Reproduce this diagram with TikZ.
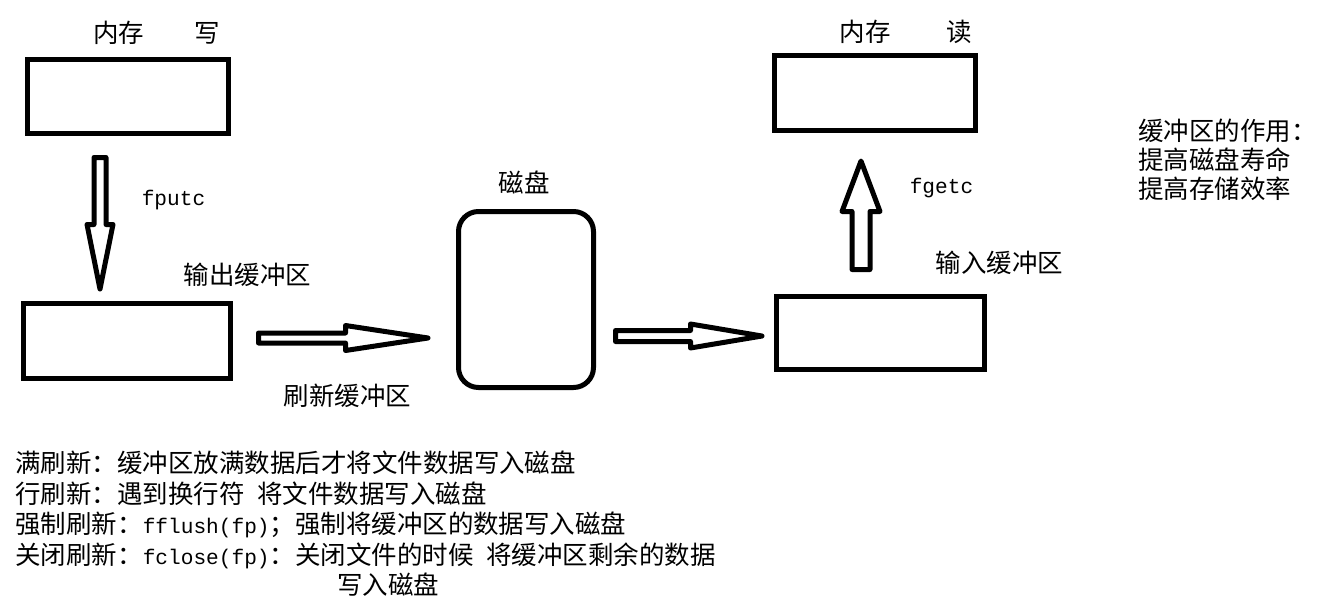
\documentclass[tikz,border=0pt]{standalone}
\usepackage{fontspec}
\setmainfont{Noto Sans CJK SC}
\setmonofont{Liberation Mono}[Scale=0.83]
\usepackage{tikz}
\usetikzlibrary{positioning,calc}

% hollow block arrow: tail, tip, half shaft, half head, head length
\newcommand{\blockarrow}[5]{%
    \coordinate (hb) at ($(#2)!#5!(#1)$);
    \draw[arrowStyle] ($(#1)!#3!90:(#2)$) -- ($(hb)!#3!90:(#2)$) -- ($(hb)!#4!90:(#2)$)
        -- (#2) -- ($(hb)!#4!-90:(#2)$) -- ($(hb)!#3!-90:(#2)$) -- ($(#1)!#3!-90:(#2)$) -- cycle;
}

\begin{document}
\begin{tikzpicture}[
    boxStyle/.style={rectangle, draw=black, line width=0.1cm, minimum width=4.02cm, minimum height=1.48cm, inner sep=0pt},
    diskStyle/.style={rectangle, rounded corners=0.4cm, draw=black, line width=0.1cm, minimum width=2.70cm, minimum height=3.52cm, inner sep=0pt},
    arrowStyle/.style={draw=black, line width=0.1cm, line join=round},
    lbl/.style={inner sep=0pt, font=\fontsize{14.5}{17.4}\selectfont}
]
    \useasboundingbox (0,0) rectangle (26.62,12.14);

    % Memory and buffers
    \node[boxStyle] (mw) at (2.56, 10.21) {};
    \node[boxStyle, minimum width=4.14cm, minimum height=1.50cm] (obuf) at (2.54, 5.32) {};
    \node[diskStyle] (disk) at (10.52, 6.15) {};
    \node[boxStyle, minimum width=4.16cm, minimum height=1.46cm] (ibuf) at (17.61, 5.48) {};
    \node[boxStyle, minimum height=1.50cm] (mr) at (17.50, 10.28) {};

    % Labels
    \node[lbl] (mwName) at (2.37, 11.48) {内存};
    \node[lbl] (mwOp) at (4.15, 11.48) {写};
    \node[lbl] (mrName) at (17.30, 11.50) {内存};
    \node[lbl] (mrOp) at (19.19, 11.50) {读};
    \node[lbl] (putLbl) at (3.47, 8.14) {\ttfamily fputc};
    \node[lbl] (obufLbl) at (4.95, 6.64) {输出缓冲区};
    \node[lbl] (flushLbl) at (6.95, 4.22) {刷新缓冲区};
    \node[lbl] (diskLbl) at (10.48, 8.50) {磁盘};
    \node[lbl] (getLbl) at (18.83, 8.38) {\ttfamily fgetc};
    \node[lbl] (ibufLbl) at (19.99, 6.88) {输入缓冲区};

    % Block arrows
    \coordinate (putA) at (2.00, 8.99);
    \coordinate (putB) at (2.00, 6.36);
    \blockarrow{putA}{putB}{0.12cm}{0.26cm}{1.29cm}

    \coordinate (flushA) at (5.17, 5.38);
    \coordinate (flushB) at (8.56, 5.38);
    \blockarrow{flushA}{flushB}{0.10cm}{0.25cm}{1.65cm}

    \coordinate (readA) at (12.31, 5.42);
    \coordinate (readB) at (15.24, 5.42);
    \blockarrow{readA}{readB}{0.11cm}{0.24cm}{1.43cm}

    \coordinate (getA) at (17.22, 6.75);
    \coordinate (getB) at (17.22, 8.92);
    \blockarrow{getA}{getB}{0.18cm}{0.38cm}{1.01cm}

    % Notes
    \node[lbl, font=\fontsize{14.5}{16.5}\selectfont, align=left, anchor=north west] (role) at (22.76, 9.76) {
        缓冲区的作用：\\
        提高磁盘寿命\\
        提高存储效率
    };
    \node[lbl, font=\fontsize{14.5}{17.4}\selectfont, align=left, anchor=north west] (notes) at (0.30, 3.13) {
        满刷新：缓冲区放满数据后才将文件数据写入磁盘\\
        行刷新：遇到换行符\hspace{0.5em}将文件数据写入磁盘\\
        强制刷新：{\ttfamily fflush(fp)}；强制将缓冲区的数据写入磁盘\\
        关闭刷新：{\ttfamily fclose(fp)}：关闭文件的时候\hspace{0.5em}将缓冲区剩余的数据\\
        \hspace*{6.44cm}写入磁盘
    };
\end{tikzpicture}
\end{document}
